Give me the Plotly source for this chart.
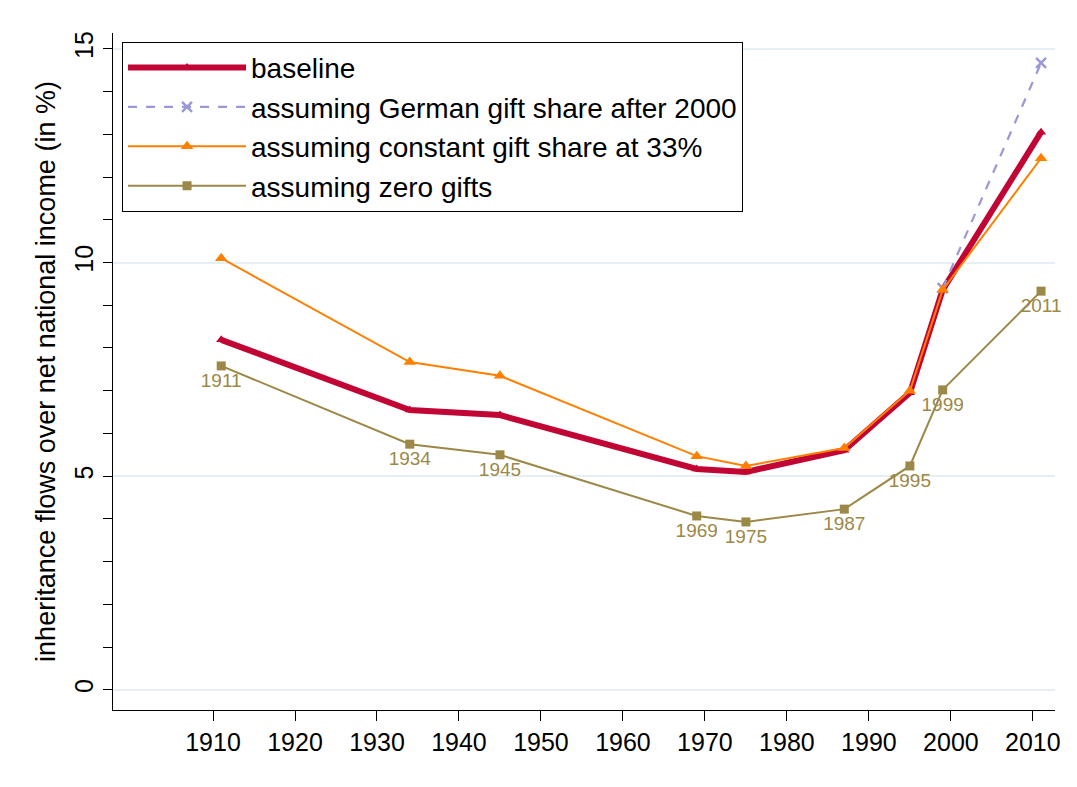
import plotly.graph_objects as go

years = [1911, 1934, 1945, 1969, 1975, 1987, 1995, 1999, 2011]
baseline = [8.19, 6.55, 6.43, 5.17, 5.10, 5.61, 6.95, 9.36, 13.05]
german_years = [1999, 2011]
german = [9.40, 14.67]
constant33 = [10.10, 7.67, 7.35, 5.47, 5.24, 5.66, 7.00, 9.36, 12.44]
zero_gifts = [7.58, 5.75, 5.50, 4.07, 3.93, 4.23, 5.24, 7.02, 9.33]
zero_labels = [str(y) for y in years]

x_ticks = list(range(1910, 2011, 10))
y_ticks = [0, 5, 10, 15]

C_BASE = "#C10534"
C_GER = "#9B98D6"
C_ORA = "#FF7F00"
C_OLI = "#9C8847"
FONT = "Liberation Sans, Arial"

fig = go.Figure()
fig.add_trace(go.Scatter(
    x=years, y=baseline, name="baseline", mode="lines+markers", cliponaxis=False,
    line=dict(color=C_BASE, width=6),
    marker=dict(symbol="triangle-up", size=9, color=C_BASE)))
fig.add_trace(go.Scatter(
    x=german_years, y=german, name="assuming German gift share after 2000",
    mode="lines+markers", cliponaxis=False,
    line=dict(color=C_GER, width=2.2, dash="dash"),
    marker=dict(symbol="x-thin-open", size=10, color=C_GER, line=dict(color=C_GER, width=2.5))))
fig.add_trace(go.Scatter(
    x=years, y=constant33, name="assuming constant gift share at 33%",
    mode="lines+markers", cliponaxis=False,
    line=dict(color=C_ORA, width=2),
    marker=dict(symbol="triangle-up", size=11, color=C_ORA)))
fig.add_trace(go.Scatter(
    x=years, y=zero_gifts, name="assuming zero gifts",
    mode="lines+markers+text", cliponaxis=False,
    text=zero_labels, textposition="bottom center",
    textfont=dict(color=C_OLI, size=19, family=FONT),
    line=dict(color=C_OLI, width=2),
    marker=dict(symbol="square", size=9, color=C_OLI)))

fig.update_layout(
    width=1077, height=787,
    paper_bgcolor="white", plot_bgcolor="white",
    margin=dict(l=105, r=30, t=25, b=85),
    font=dict(family=FONT, size=26, color="black"),
    legend=dict(
        x=0.0096, y=0.987, xanchor="left", yanchor="top",
        bgcolor="white", bordercolor="black", borderwidth=1,
        font=dict(size=28), tracegroupgap=0, itemwidth=118),
    xaxis=dict(
        range=[1897.8, 2012.7], tickvals=x_ticks, ticktext=[str(t) for t in x_ticks],
        ticks="outside", ticklen=10, tickcolor="black", showgrid=False,
        showline=True, linecolor="black", linewidth=1, zeroline=False,
        tickfont=dict(size=25)),
    yaxis=dict(
        range=[-0.47, 15.37], tickvals=y_ticks, ticktext=[str(t) for t in y_ticks],
        tickangle=-90, ticks="outside", ticklen=9, tickcolor="black",
        minor=dict(dtick=1, ticks="outside", ticklen=9, tickcolor="black", showgrid=False),
        showgrid=True, gridcolor="#E6EFF3", gridwidth=2,
        showline=True, linecolor="black", linewidth=1, zeroline=False,
        title=dict(text="inheritance flows over net national income (in %)", font=dict(size=27), standoff=6),
        tickfont=dict(size=25)),
)

fig.write_html("out.html")
